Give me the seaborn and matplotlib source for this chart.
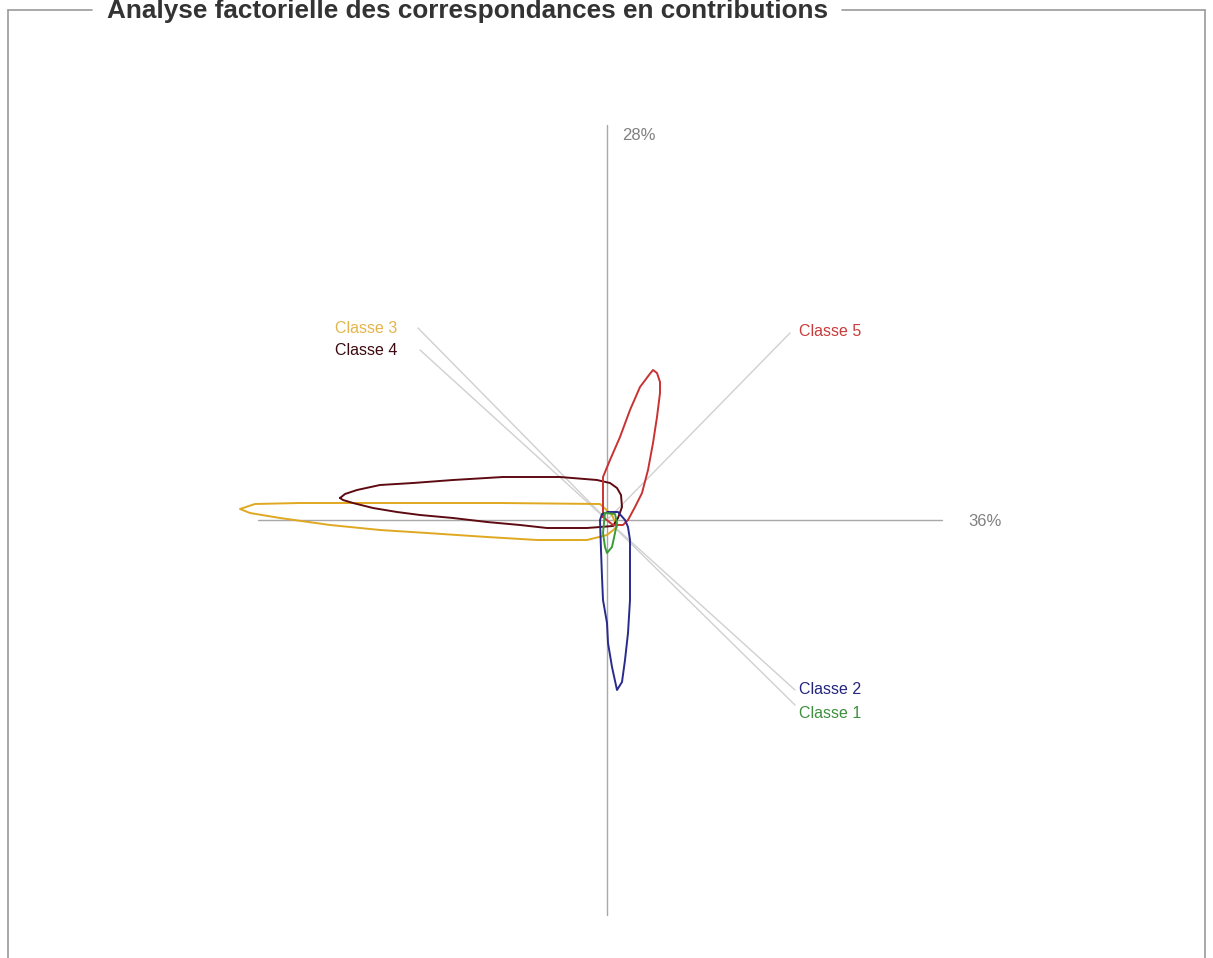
import matplotlib
matplotlib.use("Agg")
import matplotlib.pyplot as plt
from matplotlib.lines import Line2D
import seaborn as sns
import pandas as pd

# ---- data (factor-plane coordinates, origin at centre) ----
classes = ["Classe 1", "Classe 2", "Classe 3", "Classe 4", "Classe 5"]

loop_c1_x = [-2, -4, -2, 0, 5, 8, 10, 8, -2]
loop_c1_y = [7, -13, -27, -33, -27, -13, -3, 6, 7]

loop_c2_x = [1, 11, 18, 21, 23, 23, 23, 21, 18, 15, 10, 5, 1, 0, -4, -5, -6, -7, -5, 1]
loop_c2_y = [8, 8, 0, -7, -20, -47, -80, -113, -140, -162, -170, -147, -123, -103, -80, -57, -30, 0, 6, 8]

loop_c3_x = [5, -7, -107, -207, -307, -352, -367, -357, -327, -277, -227, -180, -120, -70, -20, 0, 10, 5]
loop_c3_y = [5, 16, 17, 17, 17, 16, 11, 7, 2, -5, -10, -13, -17, -20, -20, -15, -7, 5]

loop_c4_x = [-267, -262, -250, -227, -194, -154, -104, -47, -10, 3, 10, 14, 15, 11,
             6, -20, -60, -87, -120, -154, -187, -210, -234, -254, -264, -267]
loop_c4_y = [22, 26, 30, 35, 37, 40, 43, 43, 40, 37, 32, 25, 13, 2,
             -6, -8, -8, -5, -2, 2, 5, 8, 12, 17, 20, 22]

loop_c5_x = [-4, -4, -4, 3, 13, 23, 33, 42, 46, 50, 53, 53, 50, 46, 41, 35, 28, 21, 16, 6, -4]
loop_c5_y = [3, 17, 43, 60, 83, 110, 133, 145, 150, 147, 138, 127, 103, 77, 50, 27, 13, 0, -5, -5, 3]

# label anchor points (end of the guide lines)
anchor_x = [188, 188, -189, -187, 183]
anchor_y = [-185, -170, 192, 170, 187]
label_y = [-193, -170, 192, 170, 189]

axis_x_label = "36%"
axis_y_label = "28%"
title = "Analyse factorielle des correspondances en contributions"

# ---- style ----
loop_colors = ["#3a9a3a", "#2a2a8c", "#e0a820", "#5e0a12", "#c83232"]
label_colors = ["#3f8f3f", "#25257e", "#e2b54a", "#3c0a10", "#c83c3c"]

sns.set_style("white")
plt.rcParams["font.family"] = ["Liberation Sans", "DejaVu Sans"]

W, H = 1213, 958
ox, oy = 607, 520
fig = plt.figure(figsize=(W / 100, H / 100), dpi=100)
ax = fig.add_axes([0, 0, 1, 1])
ax.set_xlim(-ox, W - ox)
ax.set_ylim(-(H - oy), oy)
ax.axis("off")

# axes of the factor plane
ax.plot([-349, 335], [0, 0], color="#a8a8a8", lw=1.0, zorder=1)
ax.plot([0, 0], [-395, 395], color="#a8a8a8", lw=1.0, zorder=1)
ax.text(361, -2, axis_x_label, color="#808080", fontsize=12, ha="left", va="center")
ax.text(15, 385, axis_y_label, color="#808080", fontsize=12, ha="left", va="center")

# guide lines to labels
for axx, ayy in zip(anchor_x, anchor_y):
    ax.plot([0, axx], [0, ayy], color="#d0d0d0", lw=1.0, zorder=1)

loops = [(loop_c1_x, loop_c1_y), (loop_c2_x, loop_c2_y), (loop_c3_x, loop_c3_y),
         (loop_c4_x, loop_c4_y), (loop_c5_x, loop_c5_y)]
order = [2, 3, 4, 1, 0]
for i in order:
    lx, ly = loops[i]
    df = pd.DataFrame({"x": lx, "y": ly})
    sns.lineplot(data=df, x="x", y="y", sort=False, estimator=None,
                 color=loop_colors[i], lw=1.4, ax=ax, zorder=3)
ax.set_xlabel("")
ax.set_ylabel("")
ax.axis("off")

# labels
for i, name in enumerate(classes):
    if anchor_x[i] < 0:
        ax.text(-210, label_y[i], name, color=label_colors[i], fontsize=11.5, ha="right", va="center")
    else:
        ax.text(192, label_y[i], name, color=label_colors[i], fontsize=11.5, ha="left", va="center")

# fieldset-like frame with title
fc = "#9a9a9a"
def px(xp, yp):
    return xp / W, 1 - yp / H
for seg in [((8, 10), (92, 10)), ((842, 10), (1205, 10)),
            ((8, 10), (8, 958)), ((1205, 10), (1205, 958))]:
    (x0, y0), (x1, y1) = seg
    a, b = px(x0, y0)
    c, d = px(x1, y1)
    fig.add_artist(Line2D([a, c], [b, d], color=fc, lw=1.2, transform=fig.transFigure))
tx, ty = px(107, 11)
fig.text(tx, ty, title, color="#333333", fontsize=18.8, fontweight="bold",
         ha="left", va="center")

fig.savefig("out.png", dpi=100)
